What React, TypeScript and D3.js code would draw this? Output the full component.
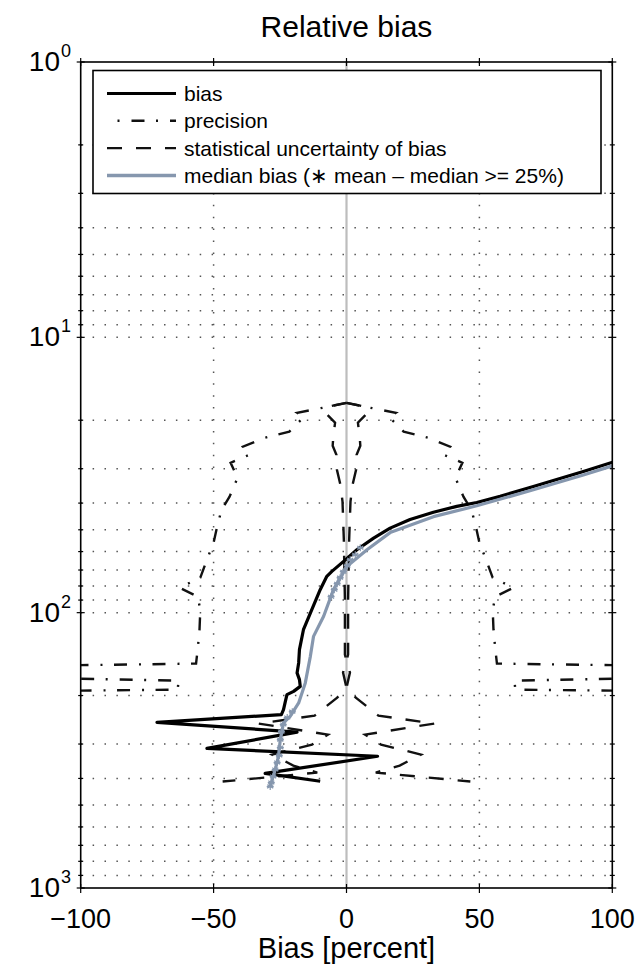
import React from 'react';
import * as d3 from 'd3';

// [pressure (hPa), value (%)]
const biasData: [number, number][] = [
  [27.9, 103], [28.5, 99.8], [30.7, 89.1], [34.8, 70.3], [37.8, 57.8], [39.8, 49.0], [41.1, 41.5],
  [43.2, 32.7], [45.9, 23.9], [49.3, 16.4], [53.6, 10.2], [59.1, 3.9], [65.1, -1.1], [70.8, -5.5],
  [73.8, -7.4], [82.5, -9.9], [100.3, -13.6], [115.3, -16.2], [136.2, -17.7], [152.2, -18.0],
  [165.5, -18.6], [175.1, -17.7], [185.2, -17.4], [193.1, -19.9], [198.5, -22.4], [209.9, -23.0],
  [225.0, -23.7], [234.6, -24.5], [250.1, -71.3], [271.5, -18.6], [311.1, -52.5], [332.3, 11.7],
  [383.5, -30.6], [409.6, -9.9],
];

const medianData: [number, number][] = [
  [28.8, 103], [29.3, 100], [31.6, 89.1], [35.8, 70.3], [40.9, 49.0], [44.8, 32.7], [51.2, 16.4],
  [59.1, 7.7], [67.9, 0.2], [82.5, -4.9], [103.1, -8.6], [121.9, -12.4], [144.1, -13.6],
  [179.9, -15.5], [212.7, -18.0], [237.9, -21.2], [251.4, -23.7], [289.1, -24.9], [332.3, -25.6],
  [371.5, -26.8], [427.1, -28.7],
];

const medianStars: [number, number][] = [
  [58.1, 5.2], [61.6, 3.3], [64.2, 1.4], [67.5, 0.3], [71.0, -1.2], [74.6, -2.4], [78.5, -3.5],
  [82.5, -4.6], [87.5, -5.8], [228.8, -20.4], [240.5, -22.3], [255.0, -23.8], [270.4, -24.5],
  [289.1, -24.9], [309.0, -24.9], [330.4, -25.3], [350.3, -26.1], [371.5, -26.8], [393.8, -27.6],
  [414.1, -28.3], [428.2, -28.7],
];

// precision (plotted as +/-)
const precisionData: [number, number][] = [
  [17.29, 0], [17.87, 7], [18.79, 18.5], [19.45, 16], [22.0, 21.5], [23.2, 31], [24.97, 39],
  [26.7, 36.5], [28.55, 43.6], [32.4, 41], [37.9, 44], [42.3, 47], [47.9, 48.5], [55.7, 50],
  [64.2, 52.5], [74.6, 55], [81.2, 62.8], [87.5, 56], [97.5, 55], [115.3, 55.3], [136.2, 56],
  [153.1, 56.6], [157.0, 140], [170.8, 140], [176.6, 63.2], [190.3, 63.5], [193.6, 140],
];

// statistical uncertainty of bias (plotted as +/-)
const uncertaintyData: [number, number][] = [
  [17.29, 0], [17.87, 7], [18.79, 8], [20.4, 4.3], [23.2, 5], [24.76, 5.2], [26.7, 3.8],
  [30.3, 3.6], [34.3, 2.3], [39.5, 1.5], [44.8, 1.3], [54.3, 1.0], [69.8, 0.8], [89.7, 0.6],
  [125.3, 0.6], [142.1, 0.6], [149.4, 0], [165.1, 1.3], [187.2, 0], [203.5, 3.5], [236.5, 12],
  [252.8, 33], [277.3, 7], [301.4, 13], [327.6, 28], [359.3, 20], [380.9, 11], [410.6, 46.6],
];

const xTicks = [-100, -50, 0, 50, 100];
const xTickLabels = ['\u2212100', '\u221250', '0', '50', '100'];
const xGrid = [-50, 50];
const yMajor = [1, 10, 100, 1000];
const yExponents = ['0', '1', '2', '3'];

const legendItems = [
  { label: 'bias', key: 'bias' },
  { label: 'precision', key: 'prec' },
  { label: 'statistical uncertainty of bias', key: 'unc' },
  { label: 'median bias (\u2217 mean \u2013 median >= 25%)', key: 'med' },
];

const FONT = 'Liberation Sans, Arial, Helvetica, sans-serif';
const MED = '#8697ae';
const PREC_DASH = '13 11.5 2 12';
const UNC_DASH = '15 14';

export default function App() {
  const left = 80.7, right = 612.3, top = 62, bottom = 888;
  const x = d3.scaleLinear().domain([-100, 100]).range([left, right]);
  const y = d3.scaleLog().domain([1, 1000]).range([top, bottom]);
  const line = d3.line<[number, number]>().x(d => x(d[1])).y(d => y(d[0]));
  const neg = (a: [number, number][]) => a.map(([p, v]) => [p, -v] as [number, number]);
  const yAll = y.ticks();
  const star = (cx: number, cy: number, r: number) => {
    let d = '';
    for (let i = 0; i < 3; i++) {
      const a = (Math.PI / 3) * i + Math.PI / 2;
      d += `M${cx + r * Math.cos(a)},${cy + r * Math.sin(a)}L${cx - r * Math.cos(a)},${cy - r * Math.sin(a)}`;
    }
    d += `M${cx - r},${cy}L${cx + r},${cy}`;
    return d;
  };

  const legX0 = 107, legX1 = 176, legTop = 70.5;
  return (
    <svg width={640} height={975} style={{ position: 'absolute', left: 0, top: 0 }} fontFamily={FONT}>
      <rect x={0} y={0} width={640} height={975} fill="white" />
      <defs>
        <clipPath id="plotclip">
          <rect x={left} y={top} width={right - left} height={bottom - top} />
        </clipPath>
      </defs>
      {/* grid */}
      {yAll.filter(t => t > 1 && t < 1000).map(t => (
        <line key={'gy' + t} x1={left} x2={right} y1={y(t)} y2={y(t)} stroke="#555" strokeWidth={1.5} strokeDasharray="1.5 10.4" />
      ))}
      {xGrid.map(v => (
        <line key={'gx' + v} x1={x(v)} x2={x(v)} y1={top} y2={bottom} stroke="#555" strokeWidth={1.5} strokeDasharray="1.5 10.4" />
      ))}
      <line x1={x(0)} x2={x(0)} y1={top} y2={bottom} stroke="#bdbdbd" strokeWidth={2.2} />
      <g clipPath="url(#plotclip)" fill="none">
        <path d={line(precisionData) || ''} stroke="#111" strokeWidth={2.4} strokeDasharray={PREC_DASH} />
        <path d={line(neg(precisionData)) || ''} stroke="#111" strokeWidth={2.4} strokeDasharray={PREC_DASH} />
        <path d={line(uncertaintyData) || ''} stroke="#111" strokeWidth={2.4} strokeDasharray={UNC_DASH} />
        <path d={line(neg(uncertaintyData)) || ''} stroke="#111" strokeWidth={2.4} strokeDasharray={UNC_DASH} />
        <path d={line(biasData) || ''} stroke="#000" strokeWidth={3.2} strokeLinejoin="round" />
        <path d={line(medianData) || ''} stroke={MED} strokeWidth={3.2} strokeLinejoin="round" />
        {medianStars.map(([p, v], i) => (
          <path key={'st' + i} d={star(x(v), y(p), 3.5)} stroke={MED} strokeWidth={1.2} />
        ))}
      </g>
      {/* frame */}
      <rect x={left} y={top} width={right - left} height={bottom - top} fill="none" stroke="#000" strokeWidth={1.6} />
      {/* y ticks */}
      {yAll.map(t => {
        const major = yMajor.includes(t);
        const l = major ? 4 : 2.5;
        return (
          <g key={'yt' + t}>
            <line x1={left - l} x2={left + l} y1={y(t)} y2={y(t)} stroke="#000" strokeWidth={1.2} />
            <line x1={right - l} x2={right + l} y1={y(t)} y2={y(t)} stroke="#000" strokeWidth={1.2} />
          </g>
        );
      })}
      {xTicks.map(v => (
        <g key={'xt' + v}>
          <line x1={x(v)} x2={x(v)} y1={top - 4} y2={top + 4} stroke="#000" strokeWidth={1.2} />
          <line x1={x(v)} x2={x(v)} y1={bottom - 4} y2={bottom + 5} stroke="#000" strokeWidth={1.2} />
        </g>
      ))}
      {/* labels */}
      {xTicks.map((v, i) => (
        <text key={'xl' + v} x={x(v)} y={928} fontSize={27} textAnchor="middle" fill="#000">{xTickLabels[i]}</text>
      ))}
      {yMajor.map((t, i) => (
        <g key={'yl' + t}>
          <text x={60} y={y(t) + 9} fontSize={28} textAnchor="end" fill="#000">10</text>
          <text x={61} y={y(t) - 5} fontSize={18} textAnchor="start" fill="#000">{yExponents[i]}</text>
        </g>
      ))}
      <text x={346.5} y={37} fontSize={30} textAnchor="middle" fill="#000">Relative bias</text>
      <text x={346.5} y={958} fontSize={29} textAnchor="middle" fill="#000">Bias [percent]</text>
      {/* legend */}
      <rect x={93} y={legTop} width={508} height={123} fill="white" stroke="#000" strokeWidth={1.6} />
      {legendItems.map((it, i) => {
        const cy = 93.5 + i * 27.3;
        let stroke = '#000', w = 3.2, dash: string | undefined, off = 0;
        if (it.key === 'prec') { w = 2.4; dash = PREC_DASH; off = -24.5; stroke = '#111'; }
        if (it.key === 'unc') { w = 2.4; dash = UNC_DASH; stroke = '#111'; }
        if (it.key === 'med') { stroke = MED; w = 3.5; }
        return (
          <g key={it.key}>
            <line x1={legX0} x2={legX1} y1={cy} y2={cy} stroke={stroke} strokeWidth={w} strokeDasharray={dash} strokeDashoffset={off} />
            <text x={184} y={cy + 7.5} fontSize={21} fill="#000">{it.label}</text>
          </g>
        );
      })}
    </svg>
  );
}
